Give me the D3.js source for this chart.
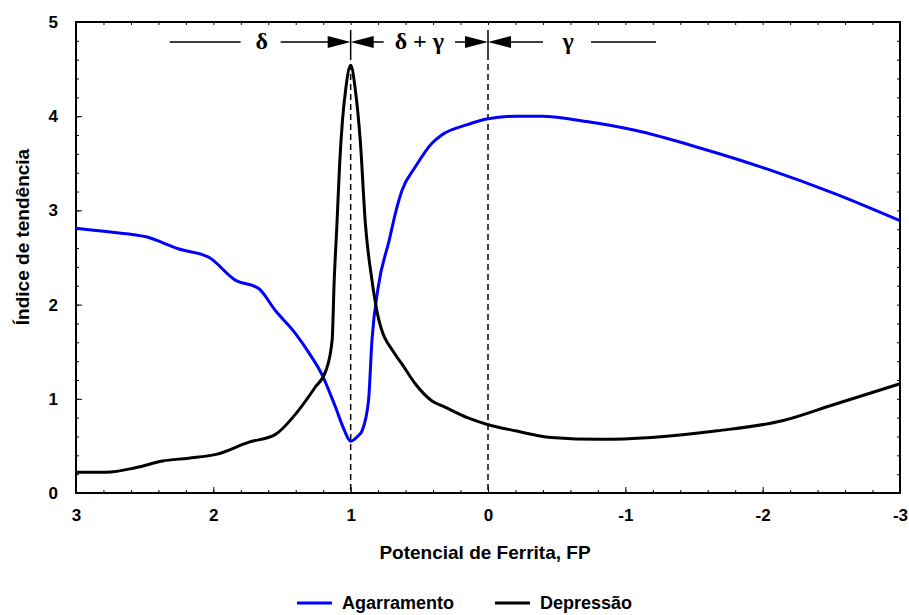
<!DOCTYPE html>
<html>
<head>
<meta charset="utf-8">
<script src="https://cdn.jsdelivr.net/npm/d3@7/dist/d3.min.js"></script>
<style>
    body { margin: 0; background: #fff; }
    text { font-family: "Liberation Sans", Arial, sans-serif; font-weight: bold; }
</style>
</head>
<body>
<div id="chart0"></div>
<script>
// Agarramento (blue) - Potencial de Ferrita vs indice
const fpAgarramento = [3.0, 2.75, 2.49, 2.25, 2.03, 1.84, 1.67, 1.55, 1.40, 1.30, 1.21, 1.11, 1.05, 1.00,
    0.95, 0.917, 0.87, 0.845, 0.80, 0.72, 0.66, 0.627, 0.53, 0.41, 0.337, 0.15, 0.01, -0.2, -0.39,
    -0.73, -1.07, -1.55, -2.03, -2.52, -3.0];
const valAgarramento = [2.81, 2.77, 2.72, 2.59, 2.50, 2.26, 2.17, 1.94, 1.69, 1.48, 1.26, 0.91, 0.68, 0.55,
    0.60, 0.66, 0.98, 1.62, 2.18, 2.68, 3.05, 3.21, 3.46, 3.71, 3.80, 3.91, 3.97, 4.0, 4.0,
    3.94, 3.85, 3.66, 3.44, 3.18, 2.89];

// Depressão (black)
const fpDepressao = [3.0, 2.78, 2.56, 2.37, 2.18, 1.98, 1.74, 1.55, 1.40, 1.26, 1.18, 1.135, 1.12, 1.10,
    1.08, 1.06, 1.035, 1.0, 0.966, 0.93, 0.893, 0.845, 0.80, 0.68, 0.627, 0.53, 0.41, 0.31, 0.15, 0.01,
    -0.2, -0.46, -0.82, -1.19, -1.67, -2.15, -2.52, -3.0];
const valDepressao = [0.22, 0.22, 0.27, 0.34, 0.37, 0.41, 0.54, 0.62, 0.84, 1.12, 1.30, 1.62, 2.25, 2.85,
    3.5, 3.95, 4.3, 4.54, 4.28, 3.74, 2.86, 2.26, 1.87, 1.48, 1.37, 1.16, 0.98, 0.91, 0.80, 0.73,
    0.66, 0.59, 0.57, 0.59, 0.66, 0.77, 0.94, 1.16];

const xTickValues = [3, 2, 1, 0, -1, -2, -3];
const yTickValues = [0, 1, 2, 3, 4, 5];
const phaseBounds = [1, 0]; // dashed lines
const seriesNames = ["Agarramento", "Depressão"];
const seriesColors = ["#0000ff", "#000000"];

(function () {
    const width = 909, height = 615;
    const left = 76, right = 900, top = 22, bottom = 493;

    const svg = d3.select("#chart0")
        .append("svg")
        .attr("width", width)
        .attr("height", height);

    const x = d3.scaleLinear().domain([3, -3]).range([left, right]);
    const y = d3.scaleLinear().domain([0, 5]).range([bottom, top]);

    // minor ticks every 0.2, majors every 1, all drawn inward on every side
    const minorX = x.ticks(30), minorY = y.ticks(25);
    svg.append("g").attr("transform", `translate(0,${bottom})`)
        .call(d3.axisBottom(x).tickValues(minorX).tickSize(-3).tickFormat(""));
    svg.append("g").attr("transform", `translate(0,${top})`)
        .call(d3.axisTop(x).tickValues(minorX).tickSize(-3).tickFormat(""));
    svg.append("g").attr("transform", `translate(${left},0)`)
        .call(d3.axisLeft(y).tickValues(minorY).tickSize(-3).tickFormat(""));
    svg.append("g").attr("transform", `translate(${right},0)`)
        .call(d3.axisRight(y).tickValues(minorY).tickSize(-3).tickFormat(""));

    const xAxis = svg.append("g").attr("transform", `translate(0,${bottom})`)
        .call(d3.axisBottom(x).tickValues(xTickValues).tickSize(-6).tickPadding(16).tickFormat(d => String(d)));
    const yAxis = svg.append("g").attr("transform", `translate(${left},0)`)
        .call(d3.axisLeft(y).tickValues(yTickValues).tickSize(-6).tickPadding(18).tickFormat(d => String(d)));
    svg.selectAll(".domain").remove();
    svg.selectAll(".tick line").attr("stroke", "#000").attr("stroke-width", 1);
    xAxis.selectAll("text").attr("font-size", 17).attr("fill", "#000").attr("font-family", "Liberation Sans, Arial, sans-serif");
    yAxis.selectAll("text").attr("font-size", 17).attr("fill", "#000").attr("font-family", "Liberation Sans, Arial, sans-serif");

    // frame
    svg.append("rect")
        .attr("x", left).attr("y", top)
        .attr("width", right - left).attr("height", bottom - top)
        .attr("fill", "none").attr("stroke", "#000").attr("stroke-width", 2);

    // phase boundaries
    const annY = 42;
    phaseBounds.forEach(b => {
        svg.append("line")
            .attr("x1", x(b)).attr("x2", x(b))
            .attr("y1", 30).attr("y2", 54)
            .attr("stroke", "#000").attr("stroke-width", 1.5);
        svg.append("line")
            .attr("x1", x(b)).attr("x2", x(b))
            .attr("y1", 54).attr("y2", bottom)
            .attr("stroke", "#000").attr("stroke-width", 1.5)
            .attr("stroke-dasharray", "6,4");
    });

    // curves
    const line = d3.line()
        .x(d => x(d[0]))
        .y(d => y(d[1]))
        .curve(d3.curveMonotoneX);

    const blueData = d3.zip(fpAgarramento, valAgarramento).reverse();
    const blackData = d3.zip(fpDepressao, valDepressao).reverse();

    svg.append("path").datum(blueData)
        .attr("d", line).attr("fill", "none")
        .attr("stroke", seriesColors[0]).attr("stroke-width", 3);
    svg.append("path").datum(blackData)
        .attr("d", line).attr("fill", "none")
        .attr("stroke", seriesColors[1]).attr("stroke-width", 3);

    // delta / gamma annotation with arrows
    const ann = svg.append("g");
    const x1 = x(phaseBounds[0]), x0 = x(phaseBounds[1]);
    const arrow = (tip, dir) => {
        // dir = +1 points right, -1 points left
        ann.append("path")
            .attr("d", `M${tip},${annY} L${tip - dir * 23},${annY - 6} L${tip - dir * 23},${annY + 6} Z`)
            .attr("fill", "#000");
    };
    const seg = (a, b) => ann.append("line")
        .attr("x1", a).attr("x2", b).attr("y1", annY).attr("y2", annY)
        .attr("stroke", "#000").attr("stroke-width", 1.5);

    seg(x1 - 181, x1 - 110);
    seg(x1 - 70, x1 - 20);
    arrow(x1, 1);
    arrow(x1, -1);
    seg(x1 + 20, x1 + 33);
    seg(x0 - 33, x0 - 20);
    arrow(x0, 1);
    arrow(x0, -1);
    seg(x0 + 20, x0 + 55);
    seg(x0 + 103, x0 + 168);

    const serif = "Liberation Serif, Times New Roman, serif";
    const symbol = (xPos, label) => ann.append("text")
        .attr("x", xPos).attr("y", annY + 7)
        .attr("text-anchor", "middle").attr("font-size", 24)
        .style("font-family", serif).style("font-weight", "bold")
        .text(label);
    symbol(x1 - 89, "δ");
    symbol((x1 + x0) / 2, "δ + γ");
    symbol(x0 + 80, "γ");

    // axis titles
    svg.append("text")
        .attr("x", (left + right) / 2 - 3).attr("y", 559)
        .attr("text-anchor", "middle").attr("font-size", 19)
        .text("Potencial de Ferrita, FP");
    svg.append("text")
        .attr("transform", "translate(29,237) rotate(-90)")
        .attr("text-anchor", "middle").attr("font-size", 19)
        .text("Índice de tendência");

    // legend
    const legend = svg.append("g").attr("transform", "translate(297,603)");
    const legendX = [0, 198];
    seriesNames.forEach((name, i) => {
        legend.append("line")
            .attr("x1", legendX[i]).attr("x2", legendX[i] + 35)
            .attr("y1", 0).attr("y2", 0)
            .attr("stroke", seriesColors[i]).attr("stroke-width", 3);
        legend.append("text")
            .attr("x", legendX[i] + 45).attr("y", 6)
            .attr("font-size", 18)
            .text(name);
    });
})();
</script>
</body>
</html>
